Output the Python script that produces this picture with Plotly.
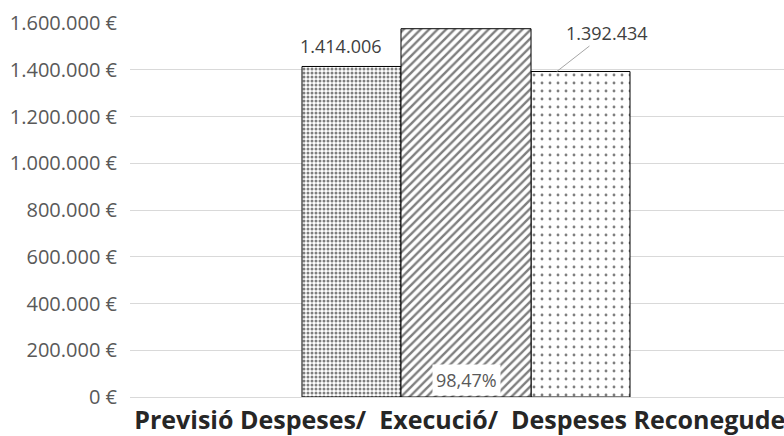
import plotly.graph_objects as go

# ---- data ----
category = ["Previsió Despeses/  Execució/  Despeses Reconegudes"]
series_names = ["Previsió Despeses", "Execució", "Despeses Reconegudes"]
prevision = [1414006]
execucio = [0.9847]          # secondary (percentage) axis
reconegudes = [1392434]
y_tickvals = [0, 200000, 400000, 600000, 800000, 1000000, 1200000, 1400000, 1600000]
y_ticktext = ["0 €", "200.000 €", "400.000 €", "600.000 €", "800.000 €",
              "1.000.000 €", "1.200.000 €", "1.400.000 €", "1.600.000 €"]


def fmt_thousands(v):
    return f"{v:,.0f}".replace(",", ".")


def fmt_pct(v):
    return f"{v*100:.2f}%".replace(".", ",")


FONT = "Open Sans"
W1, W2 = 0.1473, 0.1935
OFF1 = -W2 / 2 - W1
OFF2 = -W2 / 2
OFF3 = W2 / 2
xpos = [0]

fig = go.Figure()
fig.add_trace(go.Bar(
    x=xpos, y=prevision, name=series_names[0], width=W1, offset=OFF1,
    marker=dict(color="white", line=dict(color="black", width=1),
                pattern=dict(shape=".", size=4, solidity=0.45,
                             fgcolor="black", bgcolor="white")),
))
fig.add_trace(go.Bar(
    x=xpos, y=reconegudes, name=series_names[2], width=W1, offset=OFF3,
    marker=dict(color="white", line=dict(color="black", width=1),
                pattern=dict(shape=".", size=8, solidity=0.1,
                             fgcolor="black", bgcolor="white")),
))
fig.add_trace(go.Bar(
    x=xpos, y=execucio, name=series_names[1], width=W2, offset=OFF2,
    yaxis="y2",
    marker=dict(color="white", line=dict(color="black", width=1),
                pattern=dict(shape="/", size=6, solidity=0.4,
                             fgcolor="black", bgcolor="white")),
))

annotations = [
    dict(x=OFF1 + W1 / 2, y=prevision[0], xref="x", yref="y",
         text=fmt_thousands(prevision[0]), showarrow=False,
         yanchor="bottom", yshift=6, xshift=-10,
         font=dict(family=FONT, size=18, color="#404040")),
    dict(x=OFF3 + W1 * 0.26, y=reconegudes[0], xref="x", yref="y",
         text=fmt_thousands(reconegudes[0]), showarrow=True, arrowhead=0,
         arrowwidth=1, arrowcolor="#a6a6a6", ax=50, ay=-39,
         font=dict(family=FONT, size=18, color="#404040")),
    dict(x=0, y=0, xref="x", yref="y",
         text=fmt_pct(execucio[0]), showarrow=False,
         yanchor="bottom", yshift=1, bgcolor="white", borderpad=3,
         font=dict(family=FONT, size=18, color="#595959")),
]

fig.update_layout(
    width=784, height=436,
    margin=dict(l=130, r=0, t=23, b=39),
    paper_bgcolor="white", plot_bgcolor="white",
    showlegend=False, barmode="overlay",
    annotations=annotations,
    xaxis=dict(range=[-0.5, 0.4732], tickvals=xpos, ticktext=category,
               tickangle=0, showgrid=False, zeroline=False, automargin=False,
               showline=True, linecolor="#d9d9d9", linewidth=1,
               ticks="", ticklabeloverflow="allow",
               tickfont=dict(family=FONT, size=25, color="#262626",
                             weight="bold"),
               ticklabelstandoff=1),
    yaxis=dict(range=[0, 1600000], tickvals=y_tickvals, ticktext=y_ticktext,
               showgrid=True, gridcolor="#d9d9d9", gridwidth=1, automargin=False,
               zeroline=False, showline=False, ticks="",
               tickfont=dict(family=FONT, size=20, color="#595959"),
               ticklabelstandoff=12),
    yaxis2=dict(range=[0, 1], overlaying="y", visible=False),
)

fig.write_html("out.html", config={"displayModeBar": False},
               post_script="document.body.style.margin='0';")
